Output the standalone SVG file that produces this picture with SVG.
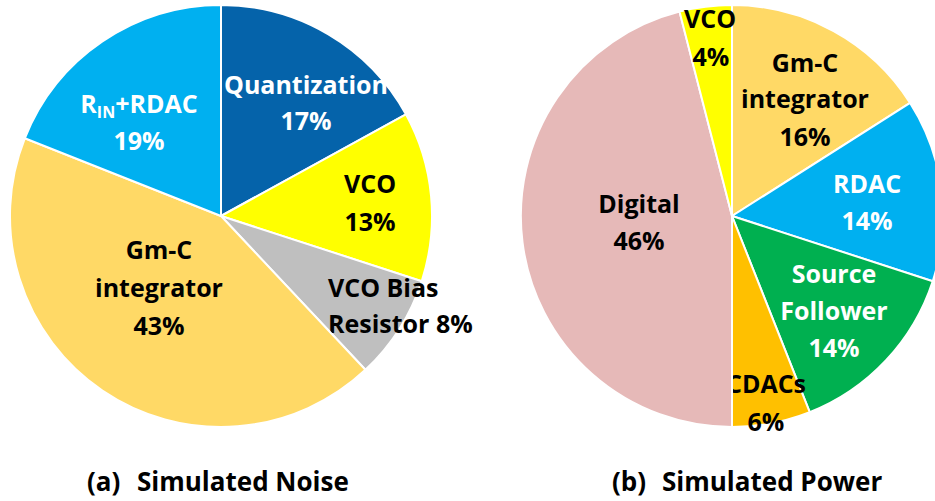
<svg xmlns="http://www.w3.org/2000/svg" width="935" height="501" viewBox="0 0 935 501">
<style>
.s{stroke:#fff;stroke-width:2;stroke-linejoin:round}
text{font-family:"Open Sans","Liberation Sans",sans-serif;font-weight:bold;font-size:25px;text-anchor:middle}
.w{fill:#fff}
.k{fill:#000}
.t{font-size:26px;text-anchor:start}
</style>
<rect width="935" height="501" fill="#fff"/>
<g id="noise-pie">
<g id="n-quant">
<path class="s" fill="#0563AA" d="M221,216 L221,5 A211,211 0 0 1 405.9,114.3 Z"/>
<text class="w" x="306" y="94">Quantization</text>
<text class="w" x="306" y="130">17%</text>
</g>
<g id="n-vco">
<path class="s" fill="#FFFF00" d="M221,216 L405.9,114.3 A211,211 0 0 1 421.7,281.2 Z"/>
<text class="k" x="370" y="193">VCO</text>
<text class="k" x="370" y="231">13%</text>
</g>
<g id="n-bias">
<path class="s" fill="#BFBFBF" d="M221,216 L421.7,281.2 A211,211 0 0 1 365.4,369.8 Z"/>
<text class="k" x="328" y="297" style="text-anchor:start">VCO Bias</text>
<text class="k" x="328" y="333" style="text-anchor:start">Resistor 8%</text>
</g>
<g id="n-gmc">
<path class="s" fill="#FFD966" d="M221,216 L365.4,369.8 A211,211 0 0 1 24.8,138.3 Z"/>
<text class="k" x="159" y="259">Gm-C</text>
<text class="k" x="159" y="297">integrator</text>
<text class="k" x="159" y="335">43%</text>
</g>
<g id="n-rin">
<path class="s" fill="#00B0F0" d="M221,216 L24.8,138.3 A211,211 0 0 1 221,5 Z"/>
<text class="w" x="139" y="113">R<tspan font-size="16" dy="5">IN</tspan><tspan dy="-5">+RDAC</tspan></text>
<text class="w" x="139" y="150">19%</text>
</g>
</g>
<g id="power-pie">
<g id="p-gmc">
<path class="s" fill="#FFD966" d="M732,216 L732,5 A211,211 0 0 1 910.1,102.9 Z"/>
<text class="k" x="805" y="72">Gm-C</text>
<text class="k" x="805" y="108">integrator</text>
<text class="k" x="805" y="146">16%</text>
</g>
<g id="p-rdac">
<path class="s" fill="#00B0F0" d="M732,216 L910.1,102.9 A211,211 0 0 1 932.7,281.2 Z"/>
<text class="w" x="867" y="193">RDAC</text>
<text class="w" x="867" y="230">14%</text>
</g>
<g id="p-sf">
<path class="s" fill="#00B050" d="M732,216 L932.7,281.2 A211,211 0 0 1 809.7,412.2 Z"/>
<text class="w" x="834" y="283">Source</text>
<text class="w" x="834" y="320">Follower</text>
<text class="w" x="834" y="357">14%</text>
</g>
<g id="p-cdac">
<path class="s" fill="#FFC000" d="M732,216 L809.7,412.2 A211,211 0 0 1 732,427 Z"/>
<text class="k" x="766" y="393">CDACs</text>
<text class="k" x="766" y="431">6%</text>
</g>
<g id="p-digital">
<path class="s" fill="#E6B9B8" d="M732,216 L732,427 A211,211 0 0 1 679.5,11.6 Z"/>
<text class="k" x="639" y="213">Digital</text>
<text class="k" x="639" y="250">46%</text>
</g>
<g id="p-vco">
<path class="s" fill="#FFFF00" d="M732,216 L679.5,11.6 A211,211 0 0 1 732,5 Z"/>
<text class="k" x="710" y="28">VCO</text>
<text class="k" x="711" y="66">4%</text>
</g>
</g>
<g id="connectors"/>
<g id="captions">
<text class="k t" x="87" y="491">(a)<tspan x="137">Simulated Noise</tspan></text>
<text class="k t" x="612" y="491">(b)<tspan x="662">Simulated Power</tspan></text>
</g>
</svg>
